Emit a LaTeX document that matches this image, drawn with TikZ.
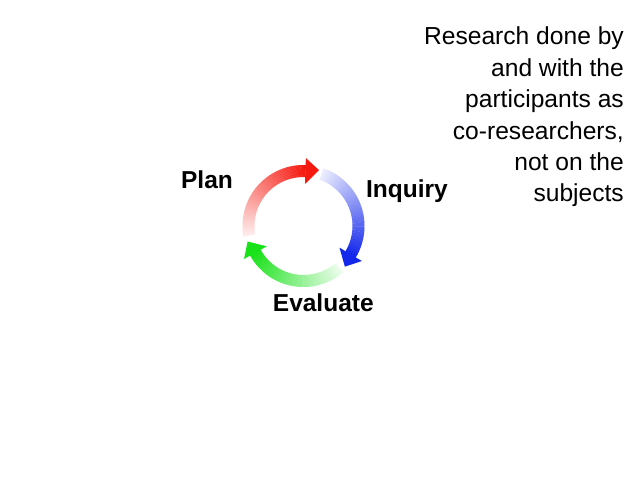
\documentclass[tikz,border=0pt]{standalone}
\usepackage{fontspec}
\setmainfont{Liberation Sans}
\definecolor{cred}{RGB}{245,25,15}
\definecolor{cblue}{RGB}{20,40,235}
\definecolor{cgreen}{RGB}{25,225,25}
\newcommand\cyclearrow[2]{%
  \foreach \i in {0,...,59}{%
    \pgfmathsetmacro\aA{#1-\i*1.7}%
    \pgfmathsetmacro\aB{#1-(\i+1)*1.7-0.3}%
    \pgfmathsetmacro\pp{8+92*\i/59}%
    \fill[#2!\pp!white, shift={(c)}] (\aA:61) arc[start angle=\aA, end angle=\aB, radius=61]
      -- (\aB:49) arc[start angle=\aB, end angle=\aA, radius=49] -- cycle;
  }%
  \pgfmathsetmacro\bA{#1-102}%
  \pgfmathsetmacro\tA{#1-115.5}%
  \fill[#2, shift={(c)}] (\bA:42) -- (\bA:68) -- (\tA:58) -- cycle;
}
\begin{document}
\begin{tikzpicture}[x=1pt,y=1pt,
  lbl/.style={font=\fontsize{24.5}{28}\selectfont\bfseries, inner sep=0pt, anchor=base},
  note/.style={font=\fontsize{24.6}{31.4}\selectfont, align=right, inner sep=0pt, anchor=base east}]
\useasboundingbox[fill=white] (0,0) rectangle (638,493);
\coordinate (c) at (303.5,267);
\cyclearrow{190}{cred}
\cyclearrow{71}{cblue}
\cyclearrow{-49}{cgreen}
\node[lbl] (plan) at (207,304.7) {Plan};
\node[lbl] (inquiry) at (407,295.3) {Inquiry};
\node[lbl] (evaluate) at (323.3,181.3) {Evaluate};
\node[note] (note) at (624,291) {Research done by\\and with the\\participants as\\co-researchers,\\not on the\\subjects};
\end{tikzpicture}
\end{document}
